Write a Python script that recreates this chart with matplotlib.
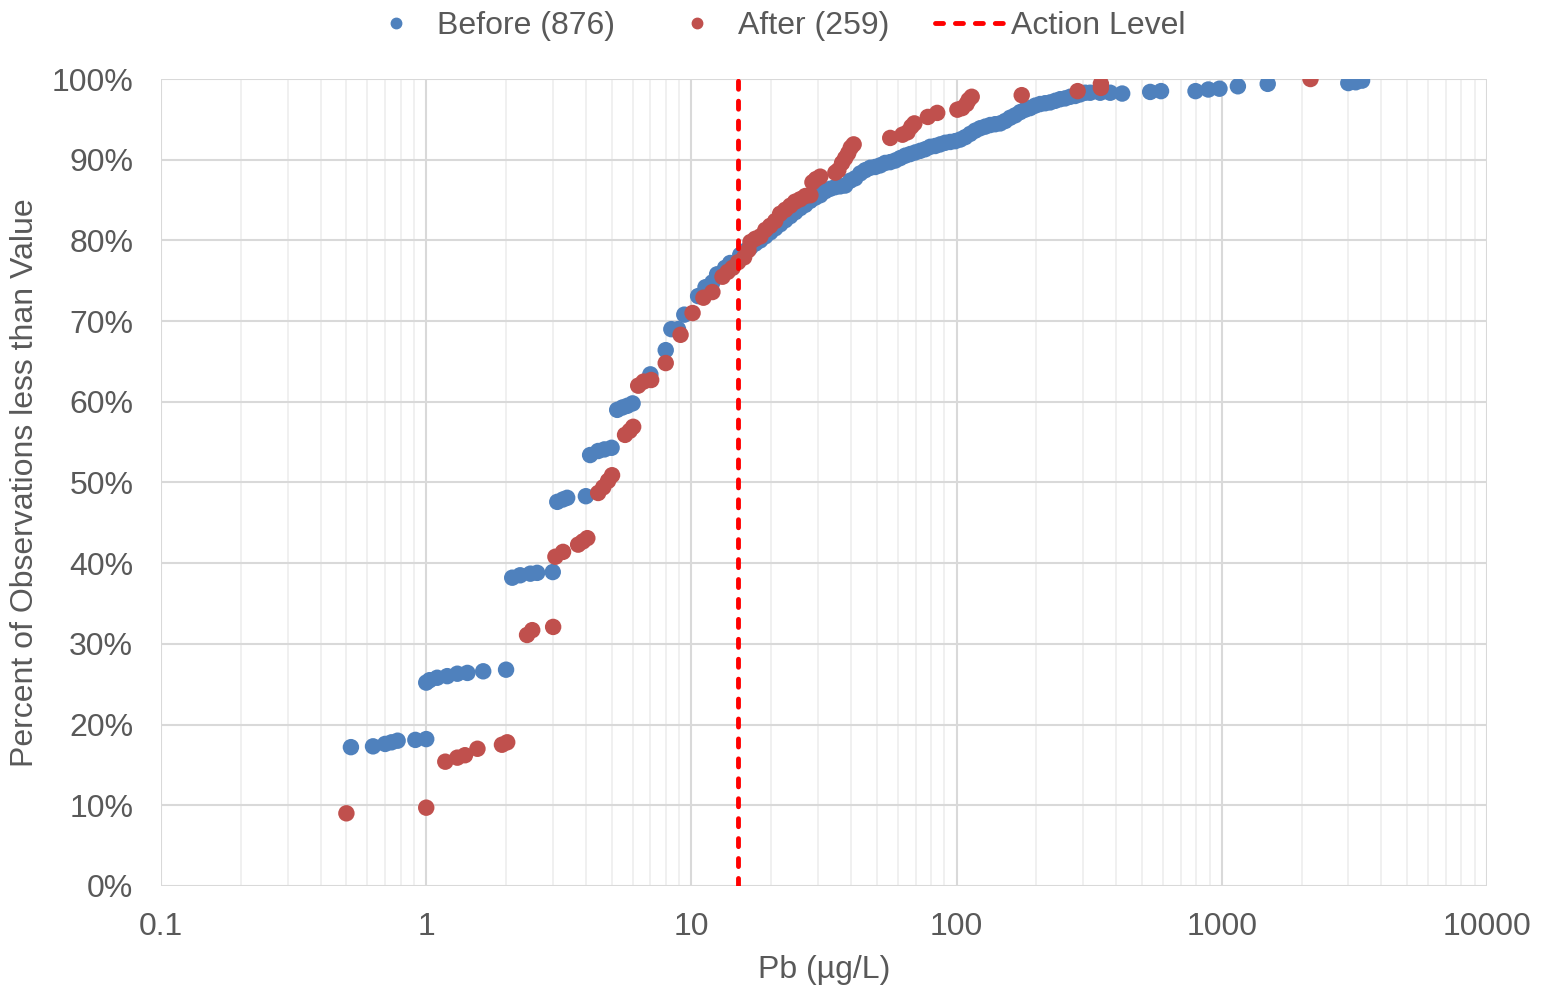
import matplotlib
matplotlib.use("Agg")
import matplotlib.pyplot as plt
from matplotlib.lines import Line2D
from matplotlib.ticker import FixedLocator, LogLocator, NullFormatter

# -----------------------------------------------
# data : Pb (ug/L) vs cumulative %
# -----------------------------------------------
before_x = [0.52, 0.63, 0.70, 0.74, 0.78, 0.91, 1.0,
            1.0, 1.03, 1.1, 1.2, 1.31, 1.43, 1.64, 2.0,
            2.11, 2.26, 2.47, 2.62, 3.0,
            3.12, 3.28, 3.40, 4.0,
            4.15, 4.45, 4.7, 5.0,
            5.25, 5.5, 5.73, 6.0,
            7.0, 8.0, 8.4, 8.9, 9.4, 10.6, 11.3, 12.0, 12.5, 13.4, 14.0,
            15.28, 15.95, 16.66, 17.40, 18.17, 18.98, 19.83, 20.70, 21.62, 22.58,
            23.58, 24.63, 25.72, 26.86, 28.05, 29.30, 30.60, 31.96, 33.38, 34.85,
            36.40, 38.01, 39.70, 41.46, 43.30, 45.23, 47.23, 49.33, 51.51, 53.80,
            56.18, 58.68, 61.28, 64.00, 66.84, 69.81, 72.90, 76.14, 79.52, 83.04,
            86.74, 90.58, 94.61, 98.79, 103.2, 107.8, 112.5, 117.5, 122.7, 128.2,
            133.9, 139.8, 146.0, 152.5, 159.2, 166.3, 173.7, 181.4, 189.4, 197.8,
            206.6, 215.8, 225.4, 235.4, 245.8, 256.7, 268.1, 280.0, 292.4, 305.4,
            318.9, 347.8, 379.5, 421.1,
            537, 590, 796, 890, 980, 1150, 1490, 3000, 3200, 3380]
before_y = [17.2, 17.3, 17.6, 17.8, 18.0, 18.1, 18.2,
            25.2, 25.5, 25.8, 26.0, 26.3, 26.4, 26.6, 26.8,
            38.2, 38.5, 38.7, 38.8, 38.9,
            47.6, 47.9, 48.1, 48.3,
            53.4, 53.9, 54.1, 54.3,
            59.0, 59.3, 59.5, 59.8,
            63.4, 66.4, 69.0, 69.0, 70.8, 73.1, 74.2, 74.8, 75.8, 76.6, 77.2,
            78.2, 78.7, 79.1, 79.6, 80.0, 80.5, 81.0, 81.5, 82.0, 82.5,
            83.0, 83.5, 84.0, 84.4, 84.9, 85.3, 85.6, 86.1, 86.4, 86.6,
            86.7, 86.8, 87.4, 87.7, 88.3, 88.7, 89.0, 89.1, 89.3, 89.6,
            89.7, 89.9, 90.2, 90.5, 90.7, 90.9, 91.1, 91.3, 91.6, 91.7,
            91.9, 92.1, 92.2, 92.3, 92.5, 92.8, 93.2, 93.6, 93.9, 94.1,
            94.3, 94.4, 94.5, 94.8, 95.2, 95.5, 95.9, 96.2, 96.4, 96.7,
            96.9, 97.0, 97.1, 97.3, 97.5, 97.6, 97.8, 97.9, 98.1, 98.3,
            98.3, 98.3, 98.3, 98.2,
            98.4, 98.5, 98.5, 98.7, 98.8, 99.1, 99.4, 99.5, 99.6, 99.8]

after_x = [0.50, 1.0,
           1.18, 1.31, 1.40, 1.56, 1.93, 2.02,
           2.40, 2.51, 3.01,
           3.07, 3.28, 3.74, 3.9, 4.05,
           4.45, 4.65, 4.85, 5.02,
           5.62, 5.85, 6.03,
           6.3, 6.6, 7.05, 8.0, 9.1, 10.1, 11.1, 12.0,
           13.1, 13.7, 14.3, 15.0, 15.8, 16.4, 16.7, 17.4, 18.2, 19.0,
           19.8, 20.7, 21.6, 22.6, 23.6, 24.6, 25.7, 26.9, 28.1, 28.6,
           29.5, 30.6, 34.9, 35.8, 37.0, 38.0, 39.0, 39.9, 40.9,
           56.2, 62.5, 65.3, 67.5, 69.3, 77.9, 84.5,
           100.7, 105, 109, 111, 114,
           176, 286, 350, 350, 2160]
after_y = [9.0, 9.7,
           15.4, 15.9, 16.2, 17.0, 17.5, 17.8,
           31.1, 31.7, 32.1,
           40.8, 41.4, 42.3, 42.7, 43.1,
           48.7, 49.4, 50.2, 50.9,
           55.9, 56.4, 56.9,
           62.0, 62.5, 62.7, 64.8, 68.3, 71.0, 72.9, 73.6,
           75.5, 76.1, 76.6, 77.3, 77.9, 78.8, 79.8, 80.2, 80.5, 81.3,
           81.8, 82.4, 83.3, 83.8, 84.3, 84.8, 85.1, 85.5, 85.6, 87.2,
           87.6, 87.9, 88.4, 88.7, 89.6, 90.2, 90.8, 91.5, 91.9,
           92.7, 93.1, 93.4, 94.1, 94.5, 95.3, 95.8,
           96.2, 96.4, 96.9, 97.4, 97.8,
           98.0, 98.5, 98.9, 99.4, 100.0]

action_level = 15
x_ticks = [0.1, 1, 10, 100, 1000, 10000]
x_tick_labels = ["0.1", "1", "10", "100", "1000", "10000"]
y_ticks = list(range(0, 101, 10))

# -----------------------------------------------
# plot
# -----------------------------------------------
plt.rcParams["font.family"] = ["Liberation Sans", "DejaVu Sans"]
TXT = "#595959"
BLUE = "#4f81bd"
RED = "#c0504d"
FS = 23
DASH = (0, (1.65, 2.45))

fig = plt.figure(figsize=(15.47, 9.89), dpi=100)
ax = fig.add_axes([0.1041, 0.1042, 0.8571, 0.8159])

ax.set_xscale("log")
ax.set_xlim(0.1, 10000)
ax.set_ylim(0, 100)

ax.scatter(before_x, before_y, s=140, color=BLUE, edgecolors="none", zorder=3)
ax.scatter(after_x, after_y, s=140, color=RED, edgecolors="none", zorder=4)
ax.axvline(action_level, color="#ff0000", lw=3.5, linestyle=DASH,
           dash_capstyle="round", zorder=5)

ax.xaxis.set_major_locator(FixedLocator(x_ticks))
ax.set_xticklabels(x_tick_labels)
ax.xaxis.set_minor_locator(LogLocator(base=10, subs=range(2, 10)))
ax.xaxis.set_minor_formatter(NullFormatter())
ax.set_yticks(y_ticks)
ax.set_yticklabels([f"{v}%" for v in y_ticks])

ax.grid(which="major", axis="both", color="#d9d9d9", lw=1.5, zorder=1)
ax.grid(which="minor", axis="x", color="#eeeeee", lw=1.2, zorder=0)
for s in ax.spines.values():
    s.set_visible(False)
ax.tick_params(which="both", length=0, labelsize=FS, labelcolor=TXT)
ax.tick_params(axis="x", pad=19)
ax.tick_params(axis="y", pad=20)

ax.set_xlabel("Pb (µg/L)", fontsize=FS, color=TXT, labelpad=9)
ax.set_ylabel("Percent of Observations less than Value", fontsize=FS, color=TXT, labelpad=8)

handles = [
    Line2D([], [], ls="none", marker="o", ms=7.5, color=BLUE, label="Before (876)"),
    Line2D([], [], ls="none", marker="o", ms=7.5, color=RED, label="After (259)"),
    Line2D([], [], color="#ff0000", lw=3.5, linestyle=DASH, dash_capstyle="round",
           label="Action Level"),
]
fig.legend(handles=handles, loc="upper center", bbox_to_anchor=(0.5, 1.018), ncol=3,
           frameon=False, fontsize=FS, labelcolor=TXT, handlelength=2.2,
           handletextpad=0.18, columnspacing=1.45)

plt.savefig("out.png", dpi=100)
